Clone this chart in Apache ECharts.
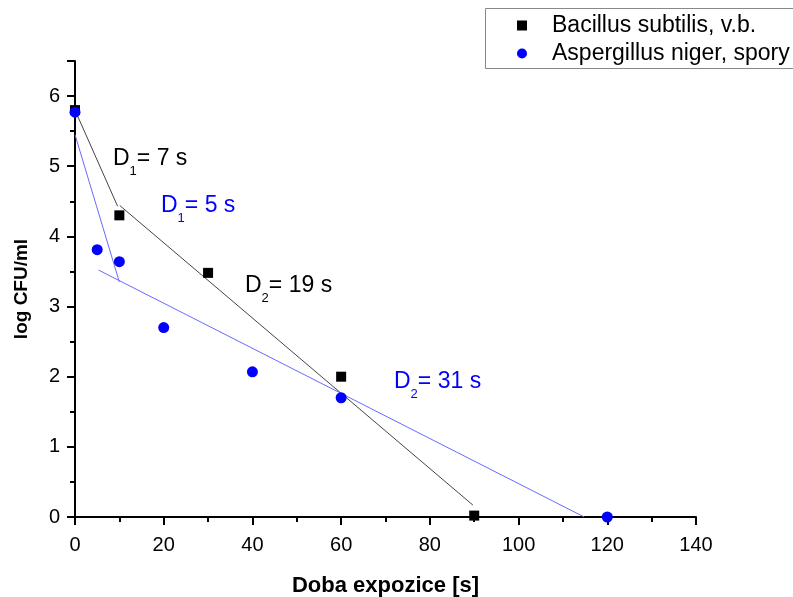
<!DOCTYPE html>
<html>
<head>
<meta charset="utf-8">
<script src="https://cdn.jsdelivr.net/npm/echarts@6/dist/echarts.min.js"></script>
<style>
  html, body { margin: 0; padding: 0; background: #fff; }
  #chart { width: 793px; height: 597px; }
</style>
</head>
<body>
<div id="chart"></div>
<script>
// measured points
const bacillusX = [0, 10, 30, 60, 90]
const bacillusY = [5.8, 4.3, 3.48, 2.0, 0.02]
const aspergillusX = [0, 5, 10, 20, 40, 60, 120]
const aspergillusY = [5.77, 3.81, 3.64, 2.7, 2.07, 1.7, 0.0]

// fitted lines (two segments for each organism)
const bacFit1 = [[0, 5.8], [9.6, 4.43]]
const bacFit2 = [[10.1, 4.44], [89.7, 0.17]]
const aspFit1 = [[0, 5.45], [10, 3.35]]
const aspFit2 = [[5.3, 3.52], [114.8, 0]]

const xTicks = { min: 0, max: 140, interval: 20 }
const yTicks = { min: 0, max: 6.5, interval: 1 }

const font = 'Liberation Sans, Arial, sans-serif'

const chart = echarts.init(document.getElementById('chart'))

function pairs(xs, ys) {
  return xs.map((x, i) => [x, ys[i]])
}

function fitLine(data, color) {
  return {
    type: 'line',
    data: data,
    symbol: 'none',
    lineStyle: { color: color, width: 1 },
    silent: true,
    z: 1
  }
}

// "D" with a subscript number, e.g. D1= 7 s
function dLabel(x, y, sub, rest, color) {
  return {
    type: 'text',
    left: x,
    top: y,
    style: {
      text: '{a|D}{s|' + sub + '}{a|' + rest + '}',
      rich: {
        a: { fontSize: 23, fontFamily: font, fill: color, color: color, lineHeight: 23, verticalAlign: 'top' },
        s: { fontSize: 13, fontFamily: font, fill: color, color: color, lineHeight: 13, padding: [18, 0, 0, 0], verticalAlign: 'top' }
      }
    }
  }
}

const option = {
  animation: false,
  backgroundColor: '#fff',
  grid: { left: 75, right: 97, top: 61, bottom: 80, outerBoundsMode: 'none' },
  xAxis: {
    type: 'value',
    min: xTicks.min, max: xTicks.max, interval: xTicks.interval,
    name: 'Doba expozice [s]',
    nameLocation: 'middle',
    nameGap: 58,
    nameTextStyle: { fontSize: 22, fontWeight: 'bold', fontFamily: font, color: '#000' },
    axisLine: { lineStyle: { color: '#000', width: 2 } },
    axisTick: { inside: false, length: 8, lineStyle: { color: '#000', width: 2 } },
    minorTick: { show: true, splitNumber: 2, length: 5, lineStyle: { color: '#000', width: 2 } },
    axisLabel: { fontSize: 20, fontFamily: font, color: '#000', margin: 18 },
    splitLine: { show: false }
  },
  yAxis: {
    type: 'value',
    min: yTicks.min, max: yTicks.max, interval: yTicks.interval,
    name: 'log CFU/ml',
    nameLocation: 'middle',
    nameGap: 44,
    nameTextStyle: { fontSize: 19, fontWeight: 'bold', fontFamily: font, color: '#000' },
    axisLine: { show: true, lineStyle: { color: '#000', width: 2 } },
    axisTick: { show: true, inside: false, length: 8, lineStyle: { color: '#000', width: 2 } },
    minorTick: { show: true, splitNumber: 2, length: 5, lineStyle: { color: '#000', width: 2 } },
    axisLabel: { fontSize: 20, fontFamily: font, color: '#000', margin: 15, showMaxLabel: false },
    splitLine: { show: false }
  },
  legend: {
    orient: 'vertical',
    left: 512,
    top: 9,
    itemGap: 5,
    itemWidth: 10,
    itemHeight: 10,
    textStyle: { fontSize: 23, lineHeight: 23, fontFamily: font, color: '#000', padding: [0, 0, 0, 20] },
    data: [
      { name: 'Bacillus subtilis, v.b.', icon: 'rect', itemStyle: { color: '#000', opacity: 1 } },
      { name: 'Aspergillus niger, spory', icon: 'circle', itemStyle: { color: '#0000ff', opacity: 1 } }
    ]
  },
  graphic: [
    {
      type: 'rect',
      shape: { x: 485.5, y: 8.5, width: 320, height: 60 },
      style: { fill: 'none', stroke: '#888', lineWidth: 1 },
      z: 0
    },
    dLabel(113, 147, '1', '= 7 s', '#000'),
    dLabel(161, 194, '1', '= 5 s', '#0000ff'),
    dLabel(245, 274, '2', '= 19 s', '#000'),
    dLabel(394, 370, '2', '= 31 s', '#0000ff')
  ],
  series: [
    fitLine(bacFit1, '#444'),
    fitLine(bacFit2, '#444'),
    fitLine(aspFit1, '#6a6aff'),
    fitLine(aspFit2, '#6a6aff'),
    {
      name: 'Bacillus subtilis, v.b.',
      type: 'scatter',
      symbol: 'rect',
      symbolSize: 10,
      itemStyle: { color: '#000', opacity: 1 },
      data: pairs(bacillusX, bacillusY),
      z: 3
    },
    {
      name: 'Aspergillus niger, spory',
      type: 'scatter',
      symbol: 'circle',
      symbolSize: 11,
      itemStyle: { color: '#0000ff', opacity: 1 },
      data: pairs(aspergillusX, aspergillusY),
      z: 4
    }
  ]
}

chart.setOption(option)
</script>
</body>
</html>
